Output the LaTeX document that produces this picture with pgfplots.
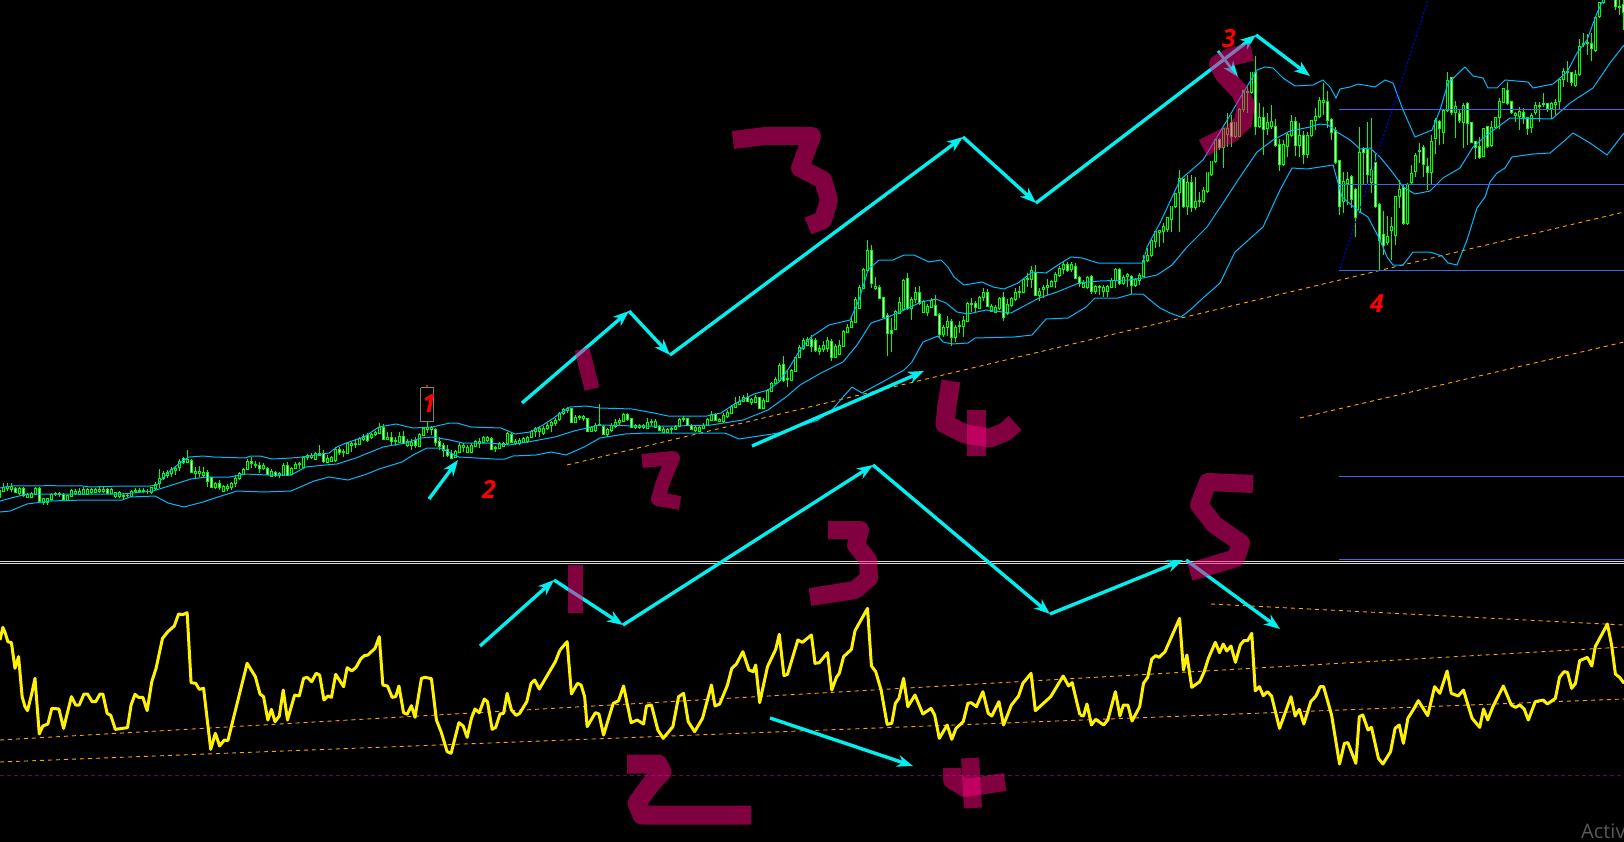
\documentclass[border=0pt]{standalone}
\usepackage{fontspec}
\setmainfont{Open Sans}
\usepackage{pgfplots}
\usepackage{pgfplotstable}
\pgfplotsset{compat=1.18}
\usetikzlibrary{arrows.meta}
\definecolor{cy}{RGB}{0,240,240}
\definecolor{band}{RGB}{0,185,255}
\definecolor{lim}{RGB}{0,255,0}
\definecolor{org}{RGB}{255,165,0}
\definecolor{rb}{RGB}{55,105,235}
\definecolor{pen}{RGB}{255,0,128}
\pgfplotstableread{
x t b h l f
-1 490 497 488 499 0
3 487 491 483 492 0
7 486 488 483 491 0
11 486 489 483 492 0
15 488 492 487 493 1
19 488 493 487 495 0
23 488 495 487 497 1
27 494 497 493 498 0
31 493 497 492 498 0
35 488 494 487 494 0
39 488 501 487 503 1
43 498 502 498 505 0
47 498 502 498 505 0
51 494 499 493 501 0
55 493 494 492 496 0
59 493 494 492 497 0
63 494 499 493 501 1
67 495 500 495 501 0
71 490 496 489 497 0
75 491 493 489 495 0
79 491 494 488 495 0
83 489 494 487 495 0
87 489 494 488 495 0
91 489 492 488 494 0
95 489 492 488 493 0
99 489 491 487 493 0
103 489 491 487 493 0
107 489 493 488 494 1
111 489 493 488 494 0
115 492 496 492 498 0
119 492 496 491 498 0
123 495 496 493 499 0
127 495 495.5 493 498 0
131 491 496 490 497 0
135 490 491 488 493 0
139 490 491 488 493 0
143 490 491 488 493 0
147 491 491.5 489 494 0
151 487 492 487 494 0
155 484 488 482 490 0
159 478 483 469 488 0
163 473 478 471 480 0
167 472 475 470 478 0
171 469 473 467 477 0
175 468 470 467 475 0
179 461 467 459 471 0
183 458 462 457 464 1
187 459 462 450 462 0
191 460 472 459 473 1
195 471 473 467 478 0
199 471 473 466 477 0
203 472 475 467 478 0
207 472 481 470 487 1
211 477 487 477 488 1
215 483 487 482 489 0
219 483 487 480 490 1
223 486 491 485 492 0
227 486 488 484 491 0
231 483 487 482 490 0
235 478 483 475 487 0
239 473 478 472 480 0
243 469 474 468 475 0
247 461 469 459 470 0
251 461 463 457 468 1
255 464 465 461 468 0
259 465 468 462 473 1
263 465 468 463 470 0
267 468 474 467 475 1
271 471 476 469 477 0
275 472 475 471 477 1
279 473 475 472 478 0
283 465 475 463 476 0
287 465 475 462 476 1
291 468 474 467 475 0
295 464 468 462 469 0
299 463 464 462 469 0
303 457 467 456 468 0
307 455 457 454 460 0
311 455 457 453 459 0
315 453 459 452 460 0
319 453 455 445 456 0
323 453 461 450 463 1
327 458 462 455 463 0
331 457 461 456 462 0
335 449 460 447 462 0
339 449 452 447 455 1
343 451 452 449 457 0
347 443 453 442 454 0
351 443 445 442 452 0
355 443 444 439 448 0
359 438 444 437 445 0
363 436 439 434 441 0
367 435 440 433 442 1
371 434 437 433 439 0
375 432 434 431 436 0
379 427 433 423 434 0
383 427 439 424 439 1
387 437 439 432 440 0
391 437 441 432 445 1
395 440 441 437 446 0
399 436 442 432 443 0
403 436 443 431 444 1
407 441 445 439 447 0
411 442 445 439 450 0
415 440 445 437 448 1
419 434 446 433 447 0
423 428 435 427 436 0
427 427 429 422 433 0
431 427 429 426 435 0
435 429 442 428 446 1
439 441 446 437 450 1
443 445 450 443 457 1
447 449 455 445 457 1
451 453 458 450 459 1
455 451 457 450 458 0
459 445 452 443 453 0
463 445 447 443 452 0
467 447 452 445 453 0
471 445 452 443 453 0
475 441 446 440 447 0
479 441 443 438 448 0
483 437 442 436 443 0
487 437 440 436 442 0
491 438 449 437 450 1
495 447 448 446 452 0
499 443 448 442 449 0
503 443 446 442 447 0
507 433 443 432 445 0
511 434 442 433 443 1
515 441 443 439 445 0
519 440 443 438 445 0
523 438 442 437 443 0
527 437 441 436 443 0
531 431 437 430 438 0
535 428 431 427 437 0
539 428 431 427 437 0
543 428 433 426 435 0
547 425 428 423 430 0
551 422 425 421 432 0
555 420 423 418 426 0
559 413 419 412 421 0
563 409 413 408 415 0
567 408 410 407 413 0
571 408 422 408 422 1
575 417 422 415 423 0
579 416 417 415 420 0
583 416 418 415 421 0
587 418 431 418 432 1
591 427 431 426 432 0
595 425 430 423 432 0
599 424 425 404 425 0
603 426 434 425 435 1
607 429 434 428 437 0
611 425 430 423 432 0
615 422 426 419 428 0
619 420 422 418 425 0
623 414 421 413 422 0
627 414 419 413 421 1
631 418 427 418 428 1
635 425 427 424 429 0
639 425 427 424 429 0
643 425 427 424 429 0
647 422 428 418 429 0
651 421 422 419 426 0
655 421 427 419 428 0
659 426 430 425 431 1
663 429 432 427 433 0
667 429 432 428 433 0
671 428 429 427 434 0
675 426 429 425 430 0
679 419 426 418 427 0
683 418 419 416 422 0
687 418 425 418 426 1
691 425 429 424 430 1
695 427 430 426 432 0
699 427 431 426 432 0
703 425 428 423 429 0
707 419 425 418 426 0
711 414 420 411 421 0
715 414 420 413 421 1
719 419 421 418 421 0
723 415 421 413 423 0
727 412 416 410 418 0
731 406 413 405 414 0
735 403 407 397 408 0
739 401 404 396 405 0
743 397 401 395 402 0
747 397 401 393 402 1
751 399 402 398 405 0
755 397 402 395 403 0
759 397 408 397 409 1
763 400 408 398 409 0
767 390 401 389 402 0
771 383 391 382 392 0
775 379 383 377 385 0
779 365 380 363 381 0
783 364 380 356 382 1
787 378 379 370 387 0
791 370 380 369 381 0
795 357 371 357 372 0
799 347 357 345 358 0
803 340 348 338 350 0
807 339 345 337 346 0
811 339 346 335 352 1
815 340 350 338 352 1
819 348 351 345 355 0
823 345 349 341 352 0
827 340 348 337 352 0
831 341 357 339 361 1
835 346 357 344 357 0
839 345 354 340 355 0
843 331 346 330 347 0
847 327 332 324 333 0
851 321 327 317 328 0
855 299 322 297 322 0
859 287 308 285 309 0
863 269 288 268 289 0
867 250 270 240 271 0
871 250 283 245 288 1
875 286 288 277 290 0
879 287 298 285 298 1
883 297 317 297 318 1
887 315 333 313 356 1
891 330 333 318 352 1
895 311 329 310 330 0
899 302 313 297 314 0
903 280 309 279 310 0
907 278 308 273 310 1
911 299 308 297 320 0
915 292 299 287 303 0
919 292 303 286 305 1
923 301 312 300 313 0
927 306 312 304 316 0
931 300 307 298 308 0
935 305 315 295 316 1
939 314 334 313 338 1
943 327 334 325 337 0
947 321 327 316 336 0
951 321 337 319 346 1
955 327 337 325 342 0
959 325 326 321 333 0
963 320 326 316 337 0
967 303 321 302 322 0
971 303 304 298 312 0
975 303 307 301 312 1
979 297 308 296 309 0
983 292 297 288 301 0
987 292 306 289 307 1
991 306 311 304 312 0
995 307 312 305 313 0
999 298 308 297 310 0
1003 297 317 292 321 1
1007 304 313 299 315 0
1011 298 305 297 307 0
1015 292 299 288 301 0
1019 291 292 286 298 0
1023 279 292 278 293 0
1027 278 279 273 287 0
1031 270 279 266 288 0
1035 272 295 265 296 1
1039 291 295 288 301 0
1043 287 289 285 298 0
1047 285 287 279 295 0
1051 281 286 280 287 0
1055 274 281 272 288 0
1059 268 275 266 277 0
1063 264 269 262 274 0
1067 264 270 262 272 1
1071 264 269 262 272 0
1075 266 278 263 279 1
1079 277 283 276 287 1
1083 283 287 280 288 0
1087 277 287 276 289 0
1091 276 291 275 294 1
1095 286 291 285 294 0
1099 286 287 285 295 0
1103 287 291 285 297 0
1107 286 291 285 297 0
1111 280 287 278 288 0
1115 269 280 268 288 0
1119 269 283 268 285 1
1123 277 283 275 285 0
1127 274 276 273 287 0
1131 276 285 275 294 1
1135 279 285 278 287 0
1139 275 280 273 285 0
1143 260 276 255 277 0
1147 255 260 248 262 0
1151 240 255 239 257 0
1155 232 241 232 248 0
1159 231 233 230 247 0
1163 227 232 223 243 0
1167 218 230 217 232 0
1171 207 220 207 232 0
1175 194 207 193 208 0
1179 179 193 170 232 0
1183 179 207 179 208 1
1187 183 207 175 215 0
1191 183 208 175 212 1
1195 202 208 177 210 0
1199 201 202 192 207 0
1203 191 202 187 203 0
1207 173 192 173 193 0
1211 162 175 162 176 0
1215 140 162 139 163 0
1219 140 148 138 150 1
1223 129 148 128 168 0
1227 129 135 113 147 0
1231 123 137 115 147 1
1235 123 137 123 138 0
1239 110 137 108 137 0
1243 91 110 90 112 0
1247 92 93 87 113 0
1251 73 93 73 94 0
1255 73 127 56 135 1
1259 118 127 103 128 0
1263 118 130 107 155 1
1267 123 129 113 135 0
1271 122 127 105 129 0
1275 127 146 119 147 1
1279 145 165 139 171 1
1283 145 165 140 166 0
1287 135 147 133 157 0
1291 122 136 115 137 0
1295 122 146 117 156 1
1299 136 146 123 157 0
1303 136 155 131 164 1
1307 136 155 132 158 0
1311 121 136 120 137 0
1315 117 121 108 130 0
1319 101 117 97 118 0
1323 101 103 83 115 0
1327 102 121 91 128 1
1331 120 133 118 140 1
1335 131 163 127 164 1
1339 161 207 160 215 1
1343 182 202 172 213 0
1347 180 184 172 205 0
1351 177 200 175 208 1
1355 190 218 188 237 1
1359 153 212 127 213 0
1363 149 153 147 185 1
1367 150 175 122 185 1
1371 170 183 118 193 0
1375 163 207 154 208 1
1379 205 240 203 270 1
1383 235 245 211 255 1
1387 237 242 216 245 0
1391 227 231 217 260 0
1395 197 236 196 245 0
1399 190 197 180 208 0
1403 188 224 185 225 1
1407 185 224 183 225 0
1411 174 183 165 185 0
1415 156 172 153 177 0
1419 151 152 143 163 0
1423 148 165 145 177 1
1427 167 173 158 190 1
1431 142 173 135 184 0
1435 121 139 118 154 0
1439 122 129 120 145 1
1443 111 133 110 144 0
1447 81 111 72 112 0
1451 78 113 77 115 1
1455 107 113 101 138 0
1459 114 121 110 123 1
1463 106 123 103 148 0
1467 104 124 102 145 1
1471 123 143 122 143 1
1475 142 148 141 159 1
1479 147 158 137 159 1
1483 129 157 128 157 0
1487 127 147 126 148 1
1491 128 146 121 147 0
1495 118 128 117 128 0
1499 102 118 98 129 0
1503 89 103 88 103 0
1507 91 104 82 105 1
1511 102 113 101 114 1
1515 114 116 112 122 0
1519 112 117 107 130 0
1523 113 118 108 124 1
1527 118 129 117 135 1
1531 116 128 113 133 0
1535 106 113 102 115 0
1539 106 107 102 122 0
1543 104 105 93 107 0
1547 104 109 103 112 1
1551 104 109 102 119 0
1555 103 105 99 115 0
1559 80 102 79 110 0
1563 72 80 68 87 0
1567 72 73 61 82 0
1571 73 83 72 86 1
1575 75 86 70 87 0
1579 47 75 39 76 0
1583 44 45 33 47 0
1587 43 44 34 55 0
1591 44 49 33 61 1
1595 18 51 17 52 0
1599 3 17 2 18 0
1603 -5 3 -5 4 0
1615 -3 7 -5 10 1
1619 7 8 -2 15 0
1623 5 13 -2 30 1
}\candles
\pgfplotstableread{
zx zy
0 150
8 112
15 130
22 155
32 158
42 235
52 200
62 320
70 350
77 362
88 315
98 265
110 432
120 408
134 402
145 355
165 357
178 415
200 320
212 345
222 345
235 312
245 312
258 335
268 335
280 312
288 312
300 370
310 376
323 418
357 413
367 345
378 313
388 322
400 322
412 362
425 275
437 235
455 145
470 125
488 108
500 72
512 74
524 68
535 278
548 280
558 298
570 295
590 478
603 430
615 468
628 450
638 452
692 220
715 260
728 312
738 320
750 390
760 358
770 395
782 378
793 300
805 390
825 315
838 318
850 265
860 262
873 275
885 250
895 255
907 330
918 318
928 322
940 253
962 290
972 233
985 243
997 232
1010 207
1020 197
1030 195
1050 175
1062 140
1072 285
1085 288
1098 322
1108 320
1117 288
1130 368
1140 373
1152 347
1162 382
1180 265
1190 262
1208 266
1222 390
1235 425
1252 485
1263 490
1285 398
1297 408
1308 442
1320 385
1330 357
1342 368
1356 327
1365 335
1378 418
1388 412
1400 372
1410 370
1420 310
1432 360
1445 376
1455 370
1475 335
1487 280
1497 270
1510 297
1555 215
1568 180
}\rsiA
\pgfplotstableread{
zx zy
56 180
76 155
88 312
105 280
115 285
125 320
132 410
155 368
165 372
178 435
205 340
220 332
234 288
255 398
272 390
290 402
298 348
312 345
330 420
345 445
372 410
388 320
402 310
415 395
433 425
455 385
480 285
490 348
503 342
525 285
537 235
550 222
568 185
585 240
597 245
604 225
615 338
637 230
660 178
670 133
683 257
693 253
722 150
735 157
760 135
770 220
782 218
805 188
817 300
830 262
838 250
850 200
872 178
882 122
917 55
928 228
940 245
955 300
972 403
985 400
995 340
1005 325
1018 265
1030 350
1050 315
1072 372
1095 355
1105 375
1118 445
1140 405
1153 448
1165 415
1185 395
1198 340
1207 338
1222 350
1240 305
1255 370
1265 378
1285 335
1298 405
1320 345
1340 318
1352 280
1375 250
1387 362
1430 320
1465 258
1480 288
1490 278
1505 345
1512 375
}\rsiB
\pgfplotstableread{
zx zy
0 375
10 378
20 342
33 405
45 388
68 405
80 390
102 305
115 378
125 345
138 345
150 393
172 350
183 280
195 262
207 207
218 197
228 202
245 185
287 85
298 240
308 195
322 292
345 275
358 245
370 205
390 157
402 188
413 162
423 183
435 168
448 217
462 165
472 152
483 152
495 130
505 302
517 290
528 317
540 305
552 318
575 415
608 320
620 378
632 358
645 402
665 335
680 318
692 290
702 290
725 375
748 522
762 460
772 458
795 520
805 380
815 375
830 420
840 412
860 505
873 522
895 485
908 415
920 405
932 460
945 385
960 360
975 332
1002 377
1022 290
1037 310
1058 243
1070 310
1090 318
1105 300
1130 385
1152 412
1163 357
1175 390
1190 350
1220 288
1243 345
1255 352
1268 345
1280 357
1292 390
1312 335
1335 330
1347 342
1370 325
1382 262
1395 245
1405 247
1417 295
1428 280
1440 212
1462 202
1475 228
1485 170
1520 102
1532 165
1543 252
1555 262
1568 280
}\rsiC
\begin{document}
\begin{tikzpicture}
\path[use as bounding box,clip] (0,0) rectangle (1624pt,842pt);
\begin{axis}[at={(0,0)},anchor=south west,width=1624pt,height=842pt,scale only axis,
 xmin=0,xmax=1624,ymin=0,ymax=842,y dir=reverse,axis line style={draw=none},ticks=none,
 axis background/.style={fill=black},clip=true]
% candles: bodies, then the centre column (wick and inner part), each comb from the top edge
\addplot[ycomb,mark=none,lim,line width=3.6pt] table[x expr=\thisrow{x}+0.5,y expr=\thisrow{b}+0.5] {\candles};
\addplot[ycomb,mark=none,black,line width=4pt] table[x expr=\thisrow{x}+0.5,y expr=\thisrow{t}-0.5] {\candles};
\addplot[ycomb,mark=none,lim,line width=1.3pt] table[x expr=\thisrow{x}+0.5,y=l] {\candles};
\addplot[ycomb,mark=none,black,line width=1.3pt] table[x expr=\thisrow{x}+0.5,y expr=\thisrow{b}-0.5] {\candles};
\addplot[ycomb,mark=none,white,line width=1.3pt] table[x expr=\thisrow{x}+0.5,y expr=\thisrow{f}*(\thisrow{b}-0.5)] {\candles};
\addplot[ycomb,mark=none,lim,line width=1.3pt] table[x expr=\thisrow{x}+0.5,y expr=\thisrow{t}+0.5] {\candles};
\addplot[ycomb,mark=none,black,line width=1.6pt] table[x expr=\thisrow{x}+0.5,y=h] {\candles};
% orange trend lines
\addplot[org,line width=0.9pt,dash pattern=on 4pt off 4pt] coordinates {(567,465)(1624,212)};
\addplot[org,line width=0.9pt,dash pattern=on 4pt off 4pt] coordinates {(1300,418)(1624,342)};
\addplot[org,line width=0.9pt,dash pattern=on 4pt off 4pt] coordinates {(0,740)(1624,647)};
\addplot[org,line width=0.9pt,dash pattern=on 4pt off 4pt] coordinates {(0,762)(1624,699)};
\addplot[org,line width=0.9pt,dash pattern=on 4pt off 4pt] coordinates {(1211,604)(1624,625)};
\addplot[violet!80!black,line width=0.9pt,dash pattern=on 4pt off 3pt] coordinates {(0,775.5)(1624,775.5)};
% Bollinger bands
\addplot[band,line width=1pt] coordinates {(0,488)(12,486)(50,485.7)(83,486)(90,487)(120,486)(150,486)(157,485)(161,480)(170,471)(180,463)(189,457)(203,456)(214,457)(245,458)(251,456)(260,456)(272,459)(291,458)(302,457)(329,453)(337,447)(346,443)(364,437)(379,427)(396,424)(413,428)(432,427)(450,423)(457,423)(471,427)(501,428)(515,434)(530,432)(543,425)(555,417)(570,407)(586,406)(600,408)(632,409)(654,413)(668,416)(707,416)(721,413)(736,403)(754,394)(768,390)(779,382)(789,368)(800,350)(811,337)(829,325)(850,320)(859,300)(868,270)(879,260)(893,260)(904,255)(914,255)(929,262)(941,260)(948,267)(954,277)(964,285)(982,282)(993,287)(1004,289)(1018,283)(1032,272)(1046,273)(1061,263)(1071,257)(1082,258)(1098,263)(1143,263)(1147,247)(1160,223)(1180,180)(1203,160)(1223,127)(1243,93)(1257,70)(1265,67)(1273,68)(1283,78)(1295,86)(1313,85)(1323,80)(1330,87)(1336,98)(1340,89)(1350,87)(1358,84)(1375,87)(1385,80)(1393,83)(1403,110)(1415,137)(1432,130)(1440,110)(1448,83)(1465,67)(1473,76)(1483,78)(1488,88)(1497,88)(1505,80)(1528,82)(1533,88)(1553,84)(1567,72)(1577,53)(1587,40)(1597,13)(1603,0)};
\addplot[band,line width=1pt] coordinates {(0,501)(11,498)(27,494)(54,494)(84,494)(122,494)(153,491)(172,485)(191,479)(207,477)(230,477)(245,474)(268,475)(291,475)(306,467)(325,465)(337,464)(356,458)(383,447)(394,445)(406,443)(421,438)(432,437)(450,440)(463,443)(490,443)(509,445)(528,442)(555,437)(574,431)(600,425)(636,426)(675,426)(711,425)(743,420)(768,410)(786,397)(800,385)(821,373)(843,362)(857,345)(871,323)(886,318)(904,310)(921,302)(936,299)(946,303)(957,312)(968,314)(986,310)(1011,313)(1039,298)(1057,292)(1079,283)(1100,281)(1129,280)(1143,278)(1157,275)(1172,265)(1187,247)(1207,227)(1223,203)(1240,177)(1257,152)(1273,140)(1290,131)(1310,127)(1320,124)(1328,125)(1337,132)(1350,140)(1360,149)(1370,148)(1380,157)(1393,173)(1403,187)(1415,194)(1430,191)(1443,178)(1460,168)(1473,147)(1487,135)(1510,118)(1552,119)(1570,103)(1593,88)(1610,63)(1624,45)};
\addplot[band,line width=1pt] coordinates {(0,512)(10,511)(27,504)(50,501)(84,500)(122,500)(130,497)(155,496)(168,503)(184,507)(203,502)(218,497)(237,491)(264,492)(291,491)(314,481)(329,477)(348,480)(367,474)(379,469)(402,462)(413,455)(427,448)(440,448)(459,457)(494,459)(505,459)(513,456)(536,455)(551,452)(566,455)(584,447)(600,438)(625,434)(646,433)(725,433)(739,439)(779,433)(818,420)(832,410)(843,397)(852,387)(862,393)(886,380)(904,370)(912,362)(923,342)(938,336)(943,342)(952,344)(968,343)(975,338)(1014,337)(1032,335)(1046,319)(1068,318)(1086,307)(1095,298)(1118,298)(1132,294)(1143,294)(1150,300)(1160,308)(1170,313)(1181,317)(1190,310)(1203,298)(1220,283)(1235,252)(1263,227)(1280,190)(1292,168)(1307,169)(1333,165)(1342,197)(1360,212)(1368,217)(1380,240)(1387,257)(1393,265)(1403,265)(1413,252)(1430,252)(1442,256)(1448,263)(1457,265)(1467,240)(1477,208)(1485,197)(1490,182)(1497,173)(1505,168)(1512,157)(1533,154)(1550,153)(1563,142)(1573,133)(1590,143)(1607,155)(1624,133)};
% blue levels
\addplot[rb,line width=1pt] coordinates {(1339,109.5)(1624,109.5)};
\addplot[rb,line width=1pt] coordinates {(1339,184.5)(1624,184.5)};
\addplot[rb,line width=1pt] coordinates {(1339,270.5)(1624,270.5)};
\addplot[rb,line width=1pt] coordinates {(1339,476.5)(1624,476.5)};
\addplot[rb,line width=1pt] coordinates {(1339,559.5)(1624,559.5)};
\addplot[blue,line width=1pt,dash pattern=on 2pt off 2pt] coordinates {(1340,269)(1428,0)};
% separator
\addplot[white!85!black,line width=1pt] coordinates {(0,561.5)(1624,561.5)};
\addplot[white!85!black,line width=1pt] coordinates {(0,563.5)(1624,563.5)};
% RSI
\addplot[yellow,line width=3pt,line join=round] table[x expr=\thisrow{zx}/2.8,y expr=590+\thisrow{zy}/3] {\rsiA};
\addplot[yellow,line width=3pt,line join=round] table[x expr=540+\thisrow{zx}/2.8,y expr=590+\thisrow{zy}/3] {\rsiB};
\addplot[yellow,line width=3pt,line join=round] table[x expr=1080+\thisrow{zx}/2.882,y expr=590+\thisrow{zy}/3] {\rsiC};
% selection box
\addplot[gray,line width=1pt] coordinates {(420.5,387.5)(433.5,387.5)(433.5,421.5)(420.5,421.5)(420.5,387.5)};
\addplot[red,line width=1.5pt] coordinates {(426,386)(428,386)};
% cyan arrows
\tikzset{arr/.style={cy,line width=3.4pt,-{Stealth[length=16pt,width=12pt]}}}
\addplot[arr] coordinates {(522,403)(629,311)};
\addplot[arr] coordinates {(629,311)(670,355)};
\addplot[arr] coordinates {(670,355)(963,137)};
\addplot[arr] coordinates {(963,137)(1036,203)};
\addplot[arr] coordinates {(1036,203)(1256,35)};
\addplot[arr] coordinates {(1256,35)(1310,76)};
\addplot[arr,line width=2.8pt] coordinates {(1218,51)(1238,77)};
\addplot[arr] coordinates {(429,499)(458,460)};
\addplot[arr] coordinates {(752,446)(924,371)};
\addplot[arr] coordinates {(480,646)(554,580)};
\addplot[arr] coordinates {(554,580)(623,625)};
\addplot[arr] coordinates {(623,625)(873,465)};
\addplot[arr] coordinates {(873,465)(1050,614)};
\addplot[arr] coordinates {(1050,614)(1183,560)};
\addplot[arr] coordinates {(1186,560)(1280,629)};
\addplot[arr] coordinates {(770,718)(913,766)};
% handwritten digits
\tikzset{hand/.style={pen,opacity=0.5,line join=round,line cap=butt}}
\addplot[hand,line width=15pt] coordinates {(582,349)(586,365)(592,389)};
\addplot[hand,line width=14pt] coordinates {(642,461)(673,458)(663,482)(658,499)(680,503)};
\addplot[hand,line width=18pt] coordinates {(733,140)(765,136)(812,136)(800,168)(823,180)(829,200)(823,220)(808,226)};
\addplot[hand,line width=19pt] coordinates {(951,381)(947,405)(945,424)(965,434)(990,438)(1005,432)(1015,423)};
\addplot[hand,line width=19pt] coordinates {(976,410)(976,456)};
\addplot[hand,line width=18pt] coordinates {(1252,52)(1230,57)(1218,64)(1224,75)(1240,92)(1246,105)(1243,122)(1232,133)(1203,148)};
\addplot[hand,line width=15pt] coordinates {(575,565)(575,613)};
\addplot[hand,line width=18pt] coordinates {(828,530)(860,530)(856,545)(868,560)(869,578)(855,590)(810,597)};
\addplot[hand,line width=18pt] coordinates {(1253,484)(1208,482)(1199,505)(1215,525)(1241,543)(1236,558)(1190,572)};
\addplot[hand,line width=19pt] coordinates {(627,764)(658,764)(662,772)(650,785)(637,803)(642,815)(751,815)};
\addplot[hand,line width=18pt] coordinates {(952,768)(952,780)(965,788)(1005,782)};
\addplot[hand,line width=18pt] coordinates {(970,758)(973,808)};
% labels
\node[red,font=\fontsize{25}{25}\selectfont\bfseries\itshape] at (axis cs:429,404) {1};
\node[red,font=\fontsize{25}{25}\selectfont\bfseries\itshape] at (axis cs:489,489) {2};
\node[red,font=\fontsize{25}{25}\selectfont\bfseries\itshape] at (axis cs:1229,39) {3};
\node[red,font=\fontsize{25}{25}\selectfont\bfseries\itshape] at (axis cs:1377,304) {4};
\node[anchor=base west,inner sep=0pt,text=black!65,font=\fontsize{20}{20}\selectfont] at (axis cs:1581,838) {Activ};
\end{axis}
\end{tikzpicture}
\end{document}
